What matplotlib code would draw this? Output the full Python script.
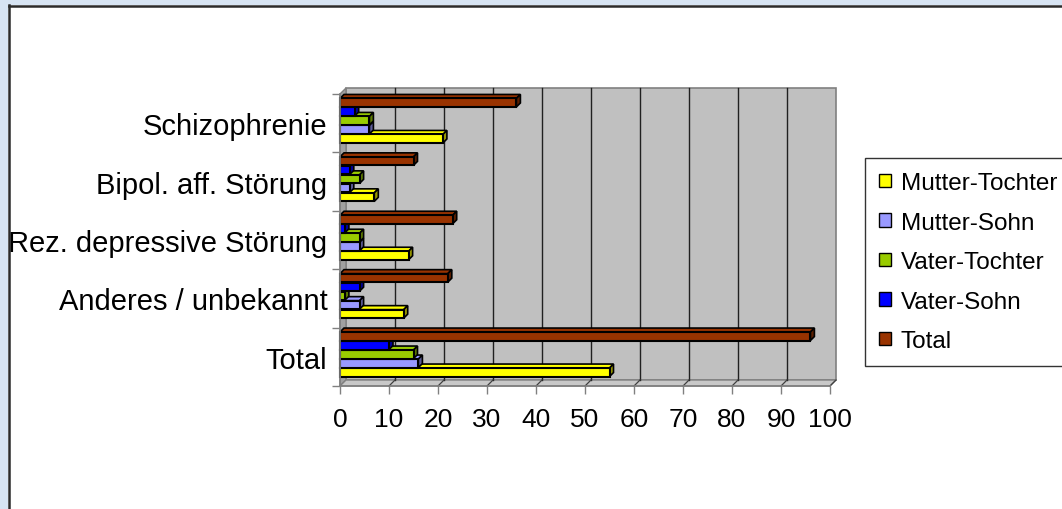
import matplotlib
matplotlib.use("Agg")
import matplotlib.pyplot as plt
from matplotlib.patches import Polygon, Rectangle, Patch
from matplotlib.lines import Line2D
import matplotlib.colors as mc

plt.rcParams['font.family'] = ['Liberation Sans', 'DejaVu Sans']

# ---------------- data ----------------
categories = ["Total", "Anderes / unbekannt", "Rez. depressive Störung",
              "Bipol. aff. Störung", "Schizophrenie"]          # bottom -> top
series_names = ["Mutter-Tochter", "Mutter-Sohn", "Vater-Tochter", "Vater-Sohn", "Total"]
mutter_tochter = [55, 13, 14, 7, 21]
mutter_sohn = [16, 4, 4, 2, 6]
vater_tochter = [15, 1, 4, 4, 6]
vater_sohn = [10, 4, 1, 2, 3]
total = [96, 22, 23, 15, 36]
series_values = [mutter_tochter, mutter_sohn, vater_tochter, vater_sohn, total]
series_colors = ["#FFFF00", "#9999FF", "#99CC00", "#0000FF", "#993300"]
x_ticks = list(range(0, 101, 10))

# ---------------- figure ----------------
W, H = 1062, 510
fig = plt.figure(figsize=(W / 100, H / 100), dpi=100)
fig.patch.set_facecolor("#D7E4F3")

# white panel with dark border
fig.add_artist(Rectangle((8 / W, 0), 1, 1 - 6 / H, transform=fig.transFigure,
                         facecolor="white", edgecolor="none", zorder=0))
fig.add_artist(Line2D([8.5 / W, 8.5 / W], [0, 1 - 6 / H], transform=fig.transFigure,
                      color="#2B2B2B", lw=1.8, zorder=1))
fig.add_artist(Line2D([8.5 / W, 1], [1 - 6.5 / H, 1 - 6.5 / H], transform=fig.transFigure,
                      color="#2B2B2B", lw=1.8, zorder=1))

x0p, x1p, y_top, y_bot = 340, 830, 95, 387
ax = fig.add_axes([x0p / W, (H - y_bot) / H, (x1p - x0p) / W, (y_bot - y_top) / H])
ax.set_xlim(0, 100)
ax.set_ylim(0, 5)
ax.patch.set_visible(False)

pxx = (x1p - x0p) / 100.0      # px per x unit
pxy = (y_bot - y_top) / 5.0    # px per y unit
dxw, dyw = 6 / pxx, 6 / pxy    # wall depth
dxb, dyb = 4 / pxx, 4 / pxy    # bar depth

wall_edge = "#808080"
# back wall
ax.add_patch(Polygon([(dxw, dyw), (100 + dxw, dyw), (100 + dxw, 5 + dyw), (dxw, 5 + dyw)],
                     closed=True, facecolor="#C0C0C0", edgecolor=wall_edge, lw=1.2,
                     clip_on=False, zorder=1))
# side wall
ax.add_patch(Polygon([(0, 0), (dxw, dyw), (dxw, 5 + dyw), (0, 5)], closed=True,
                     facecolor="#A0A0A0", edgecolor=wall_edge, lw=1.0, clip_on=False, zorder=1))
# floor
ax.add_patch(Polygon([(0, 0), (100, 0), (100 + dxw, dyw), (dxw, dyw)], closed=True,
                     facecolor="#C8C8C8", edgecolor=wall_edge, lw=1.0, clip_on=False, zorder=1))
# gridlines on back wall and floor
for xv in x_ticks[1:]:
    if xv < 100:
        ax.plot([xv + dxw, xv + dxw], [dyw, 5 + dyw], color="#202020", lw=1.0,
                zorder=2, clip_on=False)
    ax.plot([xv, xv + dxw], [0, dyw], color="#404040", lw=0.9, zorder=2, clip_on=False)


def shade(c, f):
    r, g, b = mc.to_rgb(c)
    return (r * f, g * f, b * f)


step = 9 / pxy
bh = 8.5 / pxy
offset = 2.5 / pxy
for i in range(len(categories)):
    for j in range(len(series_names)):
        v = series_values[j][i]
        yc = i + 0.5 + offset + (j - 2) * step
        yb = yc - bh / 2
        col = series_colors[j]
        z = 3 + i * 10 + j
        # top face
        ax.add_patch(Polygon([(0, yb + bh), (v, yb + bh), (v + dxb, yb + bh + dyb),
                              (dxb, yb + bh + dyb)], closed=True, facecolor=col,
                             edgecolor="black", lw=1.2, zorder=z, clip_on=False))
        # right face
        ax.add_patch(Polygon([(v, yb), (v + dxb, yb + dyb), (v + dxb, yb + bh + dyb),
                              (v, yb + bh)], closed=True, facecolor=shade(col, 0.6),
                             edgecolor="black", lw=1.2, zorder=z, clip_on=False))
        # front face
        ax.barh([yc], [v], height=bh, left=0, color=col, edgecolor="black",
                linewidth=1.5, zorder=z + 0.5, clip_on=False)

# axes styling
for s in ["top", "right"]:
    ax.spines[s].set_visible(False)
for s in ["left", "bottom"]:
    ax.spines[s].set_color(wall_edge)
    ax.spines[s].set_linewidth(1.2)
    ax.spines[s].set_zorder(100)

ax.set_xticks(x_ticks)
ax.set_xticklabels([str(t) for t in x_ticks], fontsize=19)
ax.tick_params(axis="x", length=6, width=1.0, color=wall_edge, pad=9, direction="out")

ax.set_yticks([i + 0.5 for i in range(len(categories))])
ax.set_yticklabels(categories, fontsize=21)
ax.set_yticks(range(0, 6), minor=True)
ax.tick_params(axis="y", which="major", length=0, pad=9)
ax.tick_params(axis="y", which="minor", length=6, width=1.0, color=wall_edge, direction="out")

# legend
handles = [Patch(facecolor=c, edgecolor="black", lw=1.0) for c in series_colors]
leg = fig.legend(handles, series_names, loc="upper left",
                 bbox_to_anchor=(865 / W, 1 - 159 / H), bbox_transform=fig.transFigure,
                 fontsize=17.5, frameon=True, fancybox=False, shadow=False,
                 handlelength=0.5, handleheight=0.5, handletextpad=0.4,
                 labelspacing=0.72, borderpad=0.58, borderaxespad=0)
leg.get_frame().set_edgecolor("black")
leg.get_frame().set_linewidth(1.0)

fig.savefig("out.png", dpi=100, facecolor=fig.get_facecolor())
